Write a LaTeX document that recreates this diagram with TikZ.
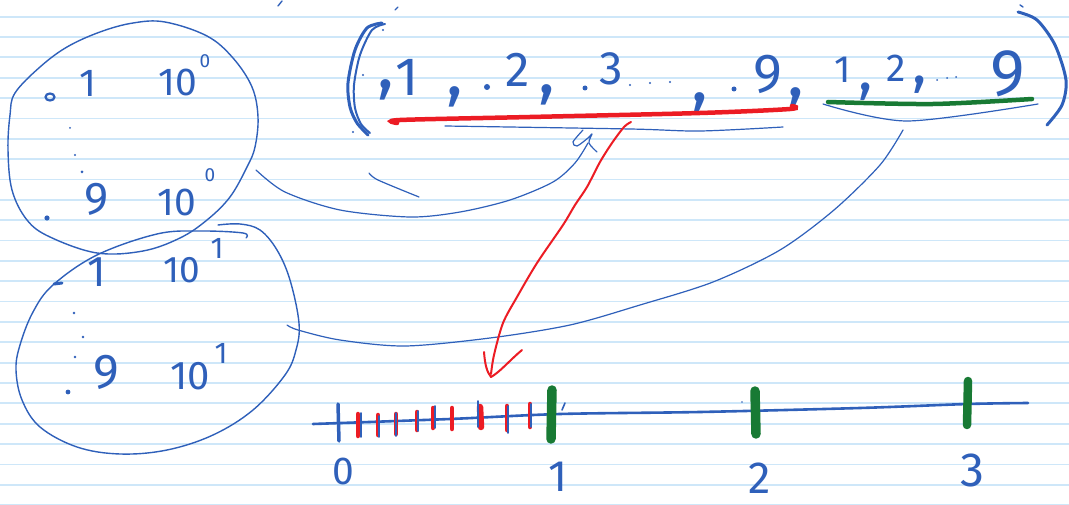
\documentclass[tikz,border=0pt]{standalone}
\usepackage{fontspec}
\setmainfont{Fira Sans}
\definecolor{inkblue}{RGB}{47,96,186}
\definecolor{inkred}{RGB}{236,28,36}
\definecolor{inkgreen}{RGB}{24,122,52}
\definecolor{paperrule}{RGB}{206,231,249}
\newcommand\hsz[1]{\fontsize{#1}{#1}\selectfont}
\tikzset{
  ink/.style={text=inkblue, inner sep=0pt},
  pen/.style={draw=inkblue, line width=1.4pt, line cap=round, line join=round},
  thickpen/.style={draw=inkblue, line width=3pt, line cap=round, line join=round},
  redpen/.style={draw=inkred, line width=2pt, line cap=round, line join=round},
  redtick/.style={draw=inkred, line width=4.5pt, line cap=round},
  bluetick/.style={draw=inkblue, line width=1.6pt, line cap=round},
  greentick/.style={draw=inkgreen, line width=9.5pt, line cap=round},
  inkdot/.style={fill=inkblue},
}
\begin{document}
\begin{tikzpicture}[x=1pt,y=-1pt]
\useasboundingbox (0,0) rectangle (1069,505);
\fill[white] (0,0) rectangle (1069,505);
% lined paper
\foreach \k in {0,...,24}
  \draw[paperrule, line width=1.8pt] (0,{16.7+20.35*\k}) -- (1069,{16.7+20.35*\k});

% ---------- circle 1 ----------
\draw[pen] plot[smooth cycle, tension=0.6] coordinates {
 (15,93) (40,67) (67,47) (100,32) (133,23) (165,22) (207,36) (233,58) (252,87)
 (258,117) (255,147) (247,167) (230,197) (207,220) (180,238) (143,251) (97,253)
 (50,237) (27,220) (12,190) (8,150) (10,115)};
\draw[inkblue, line width=2.2pt] (50,97) ellipse (4.5 and 3.5);
\node[ink, font=\hsz{39}] (a1) at (88,83) {1};
\node[ink, font=\hsz{39}] (a10) at (178,82) {10};
\node[ink, font=\hsz{19}] (a10e) at (205,61) {0};
\fill[inkdot] (70,128) circle (1);
\fill[inkdot] (75,155) circle (1.2);
\fill[inkdot] (82,172) circle (1.5);
\node[ink, font=\hsz{46}] (a9) at (97,199) {9};
\node[ink, font=\hsz{39}] (b10) at (177,202) {10};
\node[ink, font=\hsz{19}] (b10e) at (210,175) {0};
\fill[inkdot] (47,218) circle (2.6);

% ---------- circle 2 ----------
\draw[pen] plot[smooth, tension=0.6] coordinates {
 (218,225) (240,224) (260,230) (277,250) (290,280) (299,323) (296,350) (285,375)
 (253,410) (213,435) (167,450) (120,454) (77,447) (40,427) (22,400) (16,370)
 (20,345) (33,312) (53,285) (97,255) (157,234) (200,231) (243,233) (246,238)};
\draw[inkblue, line width=3pt, line cap=round] (54,284) -- (62,283);
\node[ink, font=\hsz{43}] (c1) at (97,272) {1};
\node[ink, font=\hsz{37}] (c10) at (182,270) {10};
\node[ink, font=\hsz{30}] (c10e) at (217,248) {1};
\fill[inkdot] (74,313) circle (1.4);
\fill[inkdot] (83,337) circle (1.4);
\fill[inkdot] (75,357) circle (1.4);
\node[ink, font=\hsz{49}] (c9) at (106,372) {9};
\node[ink, font=\hsz{40}] (d10) at (190,376) {10};
\node[ink, font=\hsz{30}] (d10e) at (221,353) {1};
\fill[inkdot] (68,392) circle (2.4);

% ---------- top set ----------
\draw[thickpen] plot[smooth] coordinates {(382,23) (367,28) (355,50) (348,83) (350,107) (357,123) (368,135)};
\draw[thickpen, line width=2pt] plot[smooth] coordinates {(385,24) (372,30) (360,55) (354,85) (355,108) (361,124) (370,133)};
\fill[inkdot] (383,30) circle (1.1);
\fill[inkdot] (363,75) circle (1.1);
\fill[inkdot] (353,132) circle (1.1);
\draw[pen] (395,10) -- (398,7);
\draw[pen] (278,6) -- (282,1);

\node[ink, font=\hsz{70}] (s0) at (386,90) {,};
\node[ink, font=\hsz{54}] (s1) at (407,77) {1};
\node[ink, font=\hsz{70}] (k1) at (455,97) {,};
\fill[inkdot] (487,87) circle (3);
\node[ink, font=\hsz{49}] (s2) at (518,70) {2};
\node[ink, font=\hsz{70}] (k2) at (547,95) {,};
\fill[inkdot] (585,88) circle (2.5);
\node[ink, font=\hsz{47}] (s3) at (611,69) {3};
\fill[inkdot] (630,85) circle (1.2);
\fill[inkdot] (650,83) circle (1.2);
\fill[inkdot] (670,82) circle (1.2);
\node[ink, font=\hsz{70}] (k3) at (700,103) {,};
\fill[inkdot] (734,89) circle (2.5);
\node[ink, font=\hsz{55}] (s9) at (768,74) {9};
\node[ink, font=\hsz{70}] (k4) at (796,98) {,};
\node[ink, font=\hsz{38}] (t1) at (843,70) {1};
\node[ink, font=\hsz{60}] (k5) at (866,92) {,};
\node[ink, font=\hsz{39}] (t2) at (896,68) {2};
\node[ink, font=\hsz{60}] (k6) at (920,85) {,};
\fill[inkdot] (937,80) circle (1);
\fill[inkdot] (947,78) circle (1);
\fill[inkdot] (956,77) circle (1);
\node[ink, font=\hsz{66}] (t9) at (1008,74) {9};
\draw[thickpen] plot[smooth] coordinates {(1018,12) (1037,20) (1055,45) (1066,80) (1062,105) (1047,125)};
\draw[pen] (1020,5) -- (1023,7);

% underlines
\draw[draw=inkred, line width=4.5pt, line cap=round] plot[smooth] coordinates {(397,123) (400,120) (530,117) (700,113) (790,109) (792,106)};
\draw[pen, line width=1.2pt] plot[smooth] coordinates {(445,126) (630,129) (700,131) (783,127)};
\draw[draw=inkgreen, line width=4.5pt, line cap=round] plot[smooth] coordinates {(828,102) (933,104) (1032,99)};
\draw[pen, line width=1.2pt] plot[smooth] coordinates {(823,104) (907,121) (1038,104)};

% alpha squiggle + connector to circle 1
\coordinate (alpha) at (588,143);
\coordinate (c1r) at (256,170);
\coordinate (brace) at (903,130);
\coordinate (c2r) at (287,325);
\draw[pen, line width=1.2pt] plot[smooth] coordinates {(583,130) (573,142) (577,146) (588,138) (592,134) (589,143) (597,152)};
\draw[pen, line width=1.2pt] plot[smooth] coordinates {(c1r) (285,192) (340,210) (410,217) (460,212) (510,200) (553,182) (575,163) (alpha)};
\draw[pen, line width=1.2pt] plot[smooth] coordinates {(369,173) (378,180) (419,197)};
\draw[pen, line width=1.2pt] plot[smooth] coordinates {(brace) (880,165) (834,210) (780,250) (713,282) (640,305) (570,325) (490,338) (405,346) (340,340) (298,330) (c2r)};

% red arrow
\coordinate (rstart) at (631,122);
\coordinate (rend) at (491,374);
\draw[redpen] plot[smooth] coordinates {(rstart) (624,127) (612,143) (600,162) (587,187) (575,205) (563,225) (537,263) (517,297) (503,323) (494,355) (rend)};
\draw[redpen] (484,352) .. controls (485,365) and (487,372) .. (491,377) .. controls (500,372) and (510,360) .. (522,350);

% number line
\draw[draw=inkblue, line width=2.6pt, line cap=round] plot[smooth] coordinates {(313,424) (450,419) (560,414) (700,412) (860,408) (968,404) (1028,403)};
\draw[draw=inkblue, line width=3.5pt, line cap=round] (338,404) -- (339,441);
\foreach \x/\ya/\yb in {358/414/436, 378/415/435, 396/414/434, 417/412/430, 433/408/428, 452/408/429, 507/406/430, 530/404/427}
  \draw[redtick] (\x,\ya) -- (\x,\yb);
\draw[redtick, line width=6.5pt] (480,407) -- (481,427);
\foreach \x/\ya/\yb in {361/413/437, 379/416/437, 396/413/436, 418/411/431, 435/406/428, 478/401/427, 508/406/433, 531/404/427}
  \draw[bluetick] (\x,\ya) -- (\x,\yb);
\draw[greentick] (552,390) -- (551,439);
\draw[greentick] (755,391) -- (756,434);
\draw[greentick, line width=8.5pt] (968,381) -- (967,425);
\draw[pen, line width=1.6pt] (562,410) -- (565,403);
\fill[inkdot] (742,402) circle (0.8);

\node[ink, font=\hsz{39}] (n0) at (343,471) {0};
\node[ink, font=\hsz{44}] (n1) at (558,477) {1};
\node[ink, font=\hsz{45}] (n2) at (760,478) {2};
\node[ink, font=\hsz{48}] (n3) at (972,470) {3};
\end{tikzpicture}
\end{document}
